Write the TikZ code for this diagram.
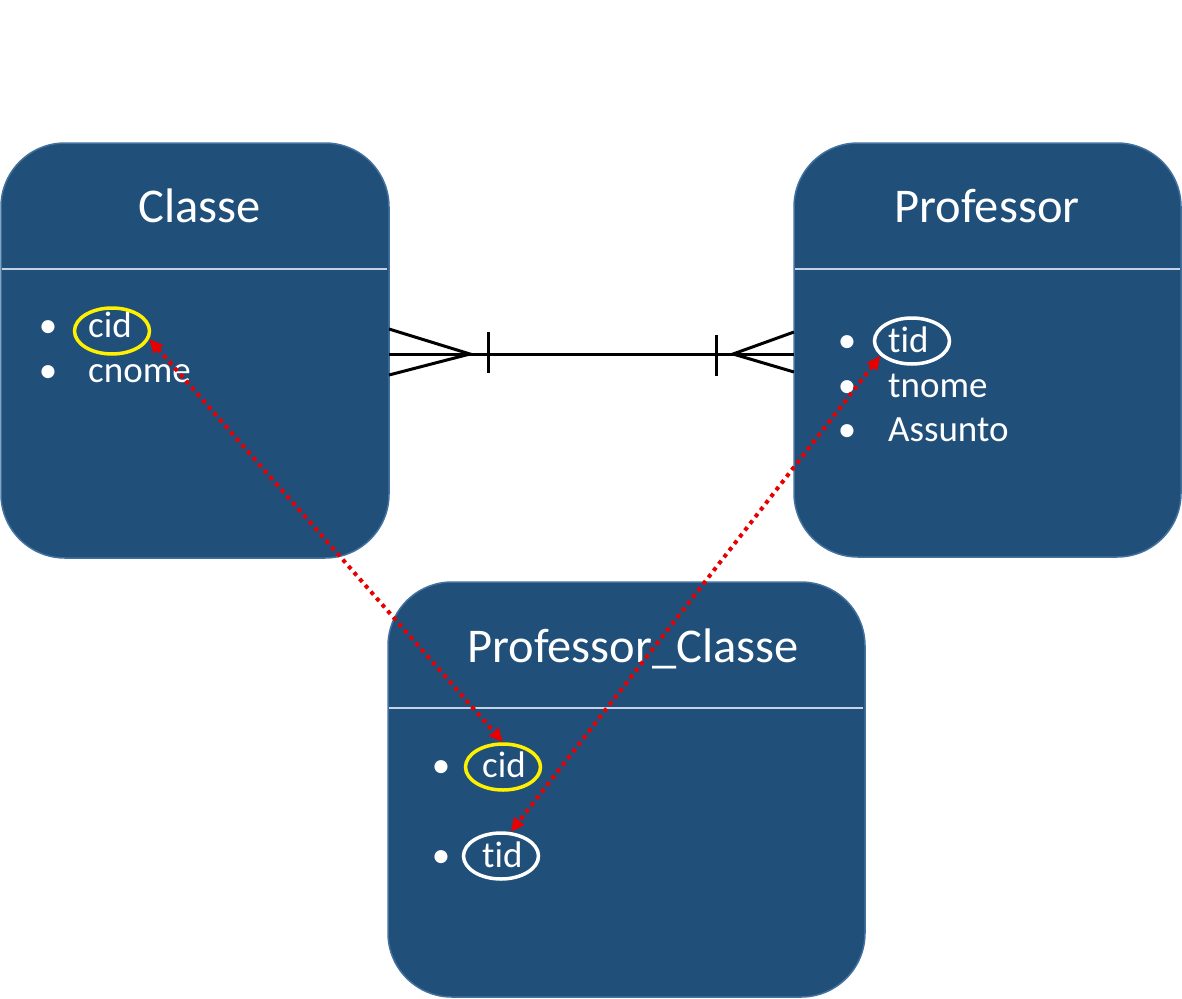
\documentclass[tikz,border=0pt]{standalone}
\usepackage{fontspec}
\setmainfont[Ligatures=NoCommon]{Carlito}
\usetikzlibrary{shapes.geometric,arrows.meta}
\definecolor{boxfill}{RGB}{32,79,122}
\definecolor{boxedge}{RGB}{65,113,156}
\definecolor{divline}{RGB}{196,212,230}
\definecolor{keyyellow}{RGB}{255,240,0}
\definecolor{linkred}{RGB}{232,0,0}
\tikzset{
  entity/.style={draw=boxedge, fill=boxfill, line width=1.5pt, rounded corners=64pt, inner sep=0pt},
  divider/.style={draw=divline, line width=1.5pt},
  title/.style={text=white, font=\fontsize{48.5}{58}\selectfont, anchor=base, inner sep=0pt},
  attr/.style={text=white, font=\fontsize{37}{44}\selectfont, anchor=base west, inner sep=0pt},
  bul/.style={text=white, font=\fontsize{37}{44}\selectfont, anchor=base, inner sep=0pt},
  keyring/.style={ellipse, draw=#1, line width=3.5pt, minimum width=75pt, minimum height=46pt, inner sep=0pt},
  link/.style={draw=linkred, line width=4pt, dash pattern=on 4pt off 4.5pt,
    {Triangle[length=14pt,width=12pt,fill=linkred]}-{Triangle[length=14pt,width=12pt,fill=linkred]}},
  rel/.style={draw=black, line width=3pt}
}
\begin{document}
\begin{tikzpicture}[x=1pt,y=-1pt]
\useasboundingbox (0,0) rectangle (1182,998);
% entities
\node[entity, minimum width=388pt, minimum height=415pt] (classe) at (195,350.5) {};
\node[entity, minimum width=387pt, minimum height=414pt] (prof) at (987.5,350) {};
\node[entity, minimum width=477pt, minimum height=415pt] (pc) at (626.5,789.5) {};
% dividers
\coordinate (cdl) at (2,269); \coordinate (cdr) at (387,269);
\coordinate (pdl) at (795,269); \coordinate (pdr) at (1180,269);
\coordinate (xdl) at (389,708); \coordinate (xdr) at (863,708);
\draw[divider] (cdl) -- (cdr);
\draw[divider] (pdl) -- (pdr);
\draw[divider] (xdl) -- (xdr);
% titles
\node[title] (tclasse) at (199.5,222) {Classe};
\node[title] (tprof) at (987,222) {Professor};
\node[title] (tpc) at (633,662) {Professor\_Classe};
% Classe attributes
\node[bul] (cb1) at (48,337) {•};
\node[bul] (cb2) at (48,382) {•};
\node[attr] (ca1) at (88,337) {cid};
\node[attr] (ca2) at (88,382) {cnome};
% Professor attributes
\node[bul] (pb1) at (847,352) {•};
\node[bul] (pb2) at (847,397) {•};
\node[bul] (pb3) at (847,441) {•};
\node[attr] (pa1) at (888,352) {tid};
\node[attr] (pa2) at (888,397) {tnome};
\node[attr] (pa3) at (888,441) {Assunto};
% Professor_Classe attributes
\node[bul] (xb1) at (441,777) {•};
\node[bul] (xb2) at (441,867) {•};
\node[attr] (xa1) at (482,777) {cid};
\node[attr] (xa2) at (482,867) {tid};
% key rings
\node[keyring=keyyellow] (c1) at (112,331) {};
\node[keyring=white] (t1) at (912,341) {};
\node[keyring=keyyellow] (c2) at (503,767) {};
\node[keyring=white] (t2) at (501,856) {};
% relationship
\coordinate (rl) at (389,354);
\coordinate (rr) at (794,354);
\coordinate (rlu) at (389,329);
\coordinate (rld) at (389,375);
\coordinate (rla) at (470,354);
\coordinate (rlbu) at (488,332);
\coordinate (rlbd) at (488,373);
\coordinate (rru) at (794,332);
\coordinate (rrd) at (794,372);
\coordinate (rra) at (733,354);
\coordinate (rrbu) at (716,335);
\coordinate (rrbd) at (716,376);
\draw[rel] (rl) -- (rr);
\draw[rel] (rlu) -- (rla) -- (rld);
\draw[rel] (rlbu) -- (rlbd);
\draw[rel] (rru) -- (rra) -- (rrd);
\draw[rel] (rrbu) -- (rrbd);
% links
\draw[link] (c1.-12) -- (c2.north);
\draw[link] (t1.205) -- (t2.68);
\end{tikzpicture}
\end{document}
